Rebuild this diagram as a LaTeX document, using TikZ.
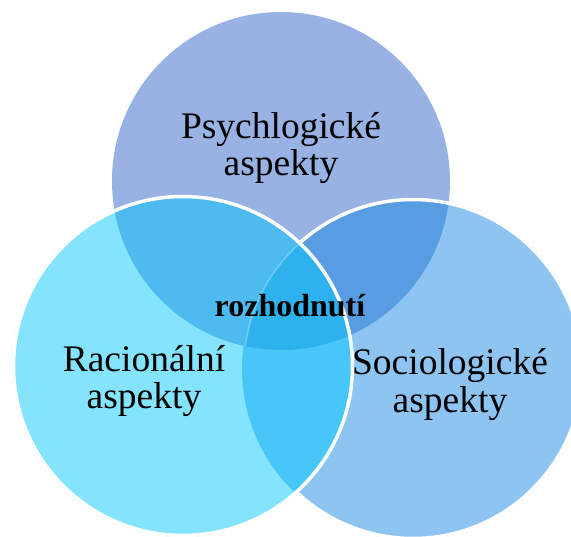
\documentclass[tikz,border=0pt]{standalone}
\usepackage{fontspec}
\setmainfont{Liberation Serif}
% fills of the three sets and of their overlaps
\definecolor{cTop}{HTML}{98B2E4}
\definecolor{cLeft}{HTML}{84E3FD}
\definecolor{cRight}{HTML}{8EC4F1}
\definecolor{cTL}{HTML}{4DBBF0}
\definecolor{cTR}{HTML}{589DE2}
\definecolor{cLR}{HTML}{47C6F8}
\definecolor{cMid}{HTML}{2DB2EE}
\begin{document}
\begin{tikzpicture}[x=1pt,y=-1pt,
  lbl/.style={align=center, anchor=base, inner sep=0pt,
              font=\fontsize{37.5}{37.5}\selectfont},
  midlbl/.style={anchor=base, inner sep=0pt,
              font=\fontsize{32}{33}\selectfont\bfseries},
  rim/.style={draw=white, line width=3.5pt}]
\useasboundingbox (0,0) rectangle (571,537);
\coordinate (T) at (281,181);
\coordinate (L) at (183,366);
\coordinate (R) at (413,369);

% top set
\fill[cTop] (T) circle (169pt);

% right set and its overlap with the top one
\fill[cRight] (R) circle (171pt);
\begin{scope}
  \clip (T) circle (169pt);
  \fill[cTR] (R) circle (171pt);
\end{scope}
\draw[rim] (R) circle (169.5pt);

% left set and its overlaps
\fill[cLeft] (L) circle (171pt);
\begin{scope}
  \clip (L) circle (171pt);
  \fill[cTL] (T) circle (169pt);
  \fill[cLR] (R) circle (171pt);
  \clip (T) circle (169pt);
  \fill[cMid] (R) circle (171pt);
  \draw[white, opacity=0.3, line width=2pt] (R) circle (169.5pt);
\end{scope}
\draw[rim] (L) circle (169.5pt);

% labels (anchored on the baseline of the last line)
\node[lbl] (psy) at (281,176) {Psychlogické\\aspekty};
\node[lbl] (rac) at (144,409) {Racionální\\aspekty};
\node[lbl] (soc) at (450,412.5) {Sociologické\\aspekty};
\node[midlbl] (roz) at (290,317) {rozhodnutí};
\end{tikzpicture}
\end{document}
